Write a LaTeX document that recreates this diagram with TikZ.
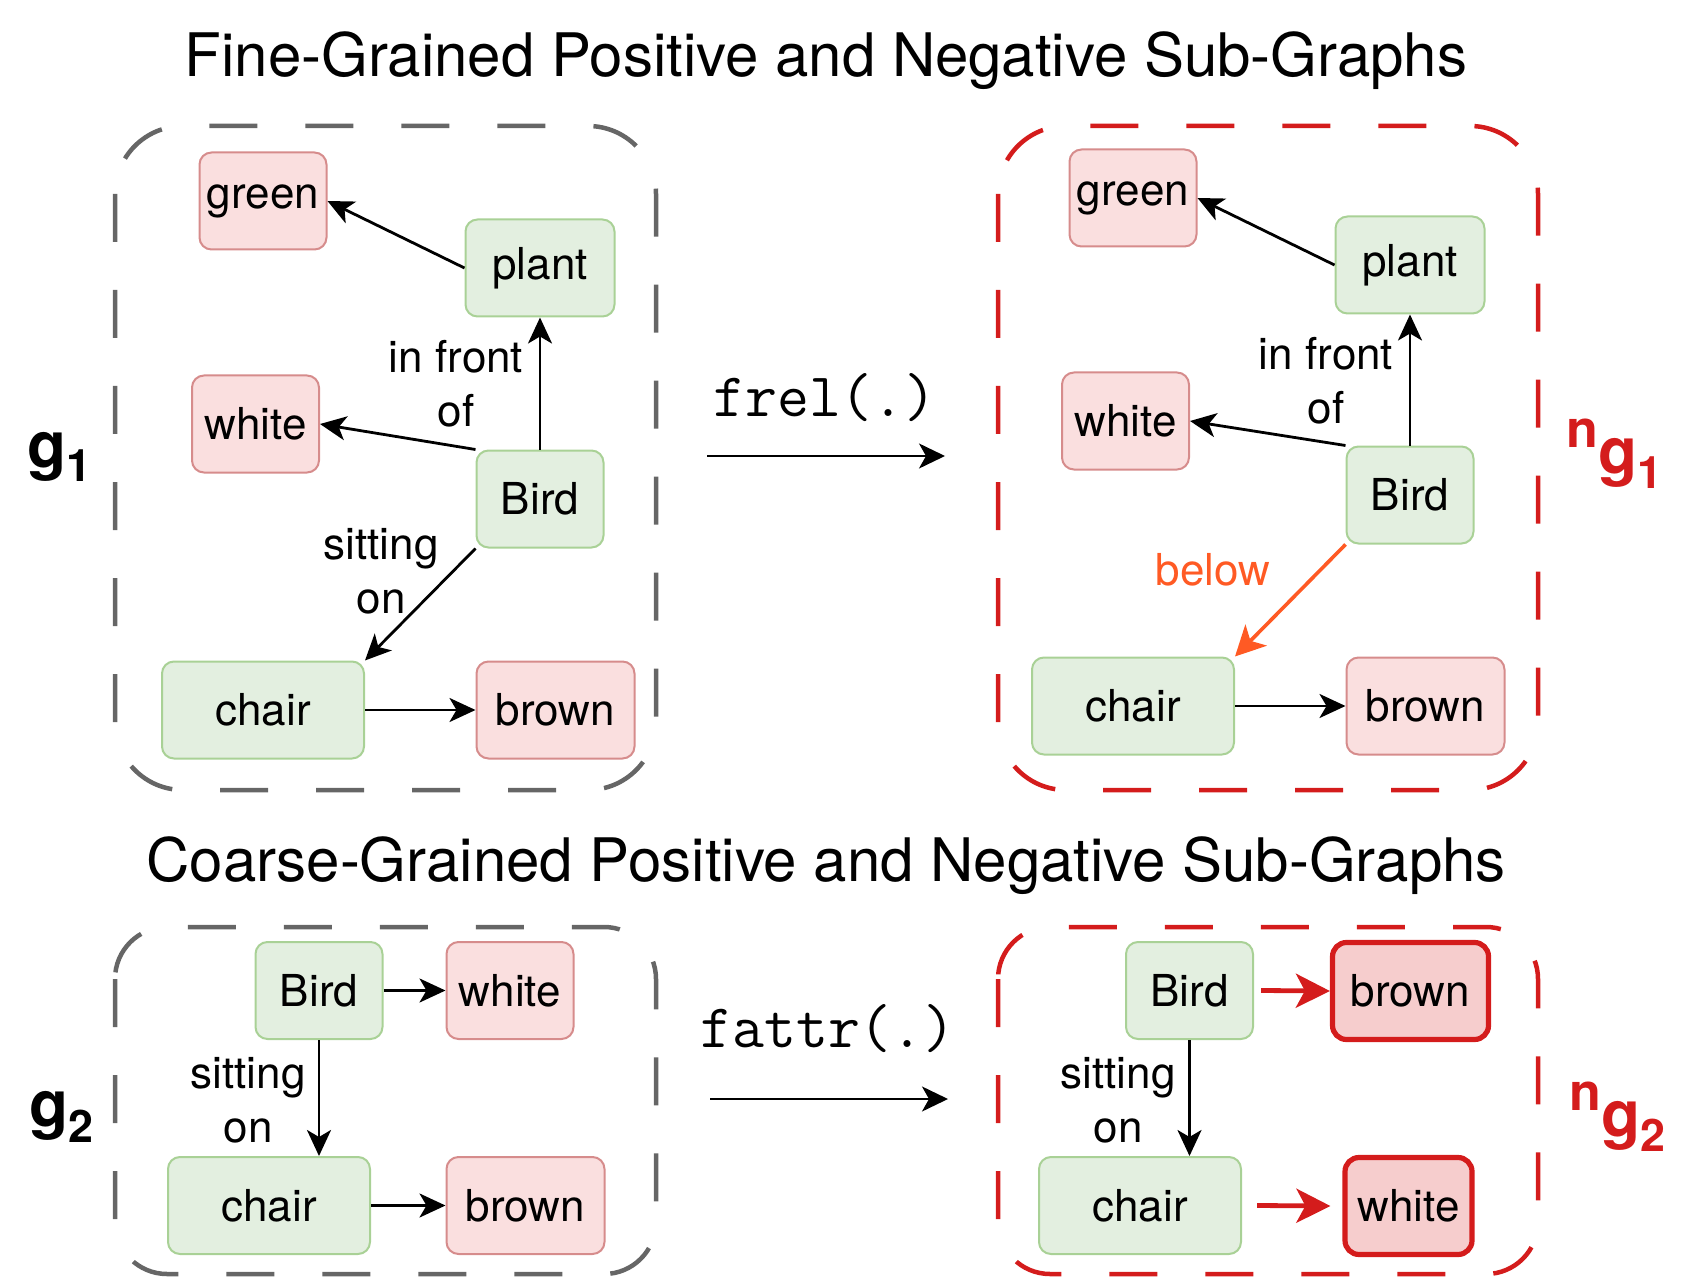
\documentclass[tikz,border=0pt]{standalone}
\usepackage{fontspec}
\setmainfont{TeX Gyre Heros}
\usetikzlibrary{arrows.meta}

\definecolor{objfill}{HTML}{E3EFE0}
\definecolor{objline}{HTML}{A9D196}
\definecolor{attrfill}{HTML}{FADFDF}
\definecolor{attrline}{HTML}{D68C8C}
\definecolor{negred}{HTML}{D41C1C}
\definecolor{negfill}{HTML}{F6CDCD}
\definecolor{framegray}{HTML}{666666}
\definecolor{belowcol}{HTML}{FF5A24}

\begin{document}
\begin{tikzpicture}[x=0.5pt,y=-0.5pt,
	every node/.style={font=\fontsize{22}{27}\selectfont,inner sep=0pt},
	obj/.style={draw=objline,fill=objfill,line width=1pt,rounded corners=6pt,minimum width=63.5pt,minimum height=48.5pt},
	attr/.style={draw=attrline,fill=attrfill,line width=1pt,rounded corners=6pt,minimum width=63.5pt,minimum height=48.5pt},
	negattr/.style={draw=negred,fill=negfill,line width=2.6pt,rounded corners=7pt,minimum width=63.5pt,minimum height=48.5pt},
	edgelbl/.style={align=center},
	rel/.style={-{Stealth[length=13pt,width=12pt,inset=3.5pt]},line width=1.4pt},
	below rel/.style={-{Stealth[length=15pt,width=15pt,inset=4pt]},line width=1.8pt,draw=belowcol},
	swap rel/.style={-{Stealth[length=17pt,width=17pt,inset=4.5pt]},line width=2.4pt,draw=negred},
	mapto/.style={-{Stealth[length=13pt,width=12.5pt,inset=3.5pt]},line width=1pt},
	fn/.style={font=\fontsize{31}{36}\selectfont\ttfamily},
	title/.style={font=\fontsize{30}{36}\selectfont},
	glbl/.style={font=\fontsize{32}{38}\selectfont\bfseries},
	posframe/.style={draw=framegray,line width=2.25pt,dash pattern=on 24pt off 24pt},
	negframe/.style={draw=negred,line width=2.25pt,dash pattern=on 24pt off 24pt}]
	\useasboundingbox (0,0) rectangle (1686,1278);

	% titles
	\node[title] (fineT) at (826,61) {Fine-Grained Positive and Negative Sub-Graphs};
	\node[title] (coarseT) at (826,866) {Coarse-Grained Positive and Negative Sub-Graphs};

	% frames
	\draw[posframe,rounded corners=34pt] (115,126) rectangle (656,790);
	\draw[negframe,rounded corners=34pt] (998,126) rectangle (1538,790);
	\draw[posframe,rounded corners=26pt] (115,927) rectangle (656,1274);
	\draw[negframe,rounded corners=26pt] (998,927) rectangle (1538,1274);

	% fine-grained, positive
	\node[attr] (greenA) at (263,201) {green};
	\node[obj,minimum width=74.5pt] (plantA) at (540,268) {plant};
	\node[attr] (whiteA) at (255.5,424) {white};
	\node[obj] (birdA) at (540,499) {Bird};
	\node[obj,minimum width=101pt] (chairA) at (263,710) {chair};
	\node[attr,minimum width=79pt] (brownA) at (555.5,710) {brown};
	\draw[rel] (plantA.west) -- (greenA.east);
	\draw[rel] (birdA.north west) -- (whiteA.east);
	\draw[rel] (birdA.north) -- (plantA.south);
	\draw[rel] (birdA.south west) -- (chairA.north east);
	\draw[rel] (chairA) -- (brownA);
	\node[edgelbl] (frontA) at (456,384) {in front\\of};
	\node[edgelbl] (sitA) at (381,571) {sitting\\on};
	\node[glbl] (gA) at (60,457) {g\textsubscript{1}};

	% fine-grained, negative
	\node[attr] (greenB) at (1133,198) {green};
	\node[obj,minimum width=74.5pt] (plantB) at (1410,265) {plant};
	\node[attr] (whiteB) at (1125.5,421) {white};
	\node[obj] (birdB) at (1410,495) {Bird};
	\node[obj,minimum width=101pt] (chairB) at (1133,706) {chair};
	\node[attr,minimum width=79pt] (brownB) at (1425.5,706) {brown};
	\draw[rel] (plantB.west) -- (greenB.east);
	\draw[rel] (birdB.north west) -- (whiteB.east);
	\draw[rel] (birdB.north) -- (plantB.south);
	\draw[below rel] (birdB.south west) -- (chairB.north east);
	\draw[rel] (chairB) -- (brownB);
	\node[edgelbl] (frontB) at (1326,381) {in front\\of};
	\node[text=belowcol] (belowB) at (1213,570) {below};
	\node[glbl,text=negred] (ngA) at (1615,454) {\raisebox{13pt}{\fontsize{26}{30}\selectfont n}g\textsubscript{1}};

	% frel
	\coordinate (relS) at (707,456);
	\coordinate (relE) at (945,456);
	\draw[mapto] (relS) -- (relE);
	\node[fn] (frel) at (825,398) {frel(.)};

	% coarse-grained, positive
	\node[obj] (birdC) at (319,990.5) {Bird};
	\node[attr] (whiteC) at (510,990.5) {white};
	\node[obj,minimum width=101pt] (chairC) at (269,1205.5) {chair};
	\node[attr,minimum width=79pt] (brownC) at (525.5,1205.5) {brown};
	\draw[rel] (birdC) -- (whiteC);
	\draw[rel] (birdC) -- (birdC |- chairC.north);
	\draw[rel] (chairC) -- (brownC);
	\node[edgelbl] (sitC) at (248,1100) {sitting\\on};
	\node[glbl] (gB) at (62,1117) {g\textsubscript{2}};

	% coarse-grained, negative
	\node[obj] (birdD) at (1189.5,990.5) {Bird};
	\node[negattr,minimum width=78pt] (brownD) at (1410.5,991) {brown};
	\node[obj,minimum width=101pt] (chairD) at (1140,1205.5) {chair};
	\node[negattr] (whiteD) at (1408.5,1206) {white};
	\draw[swap rel] ([xshift=3.5pt]birdD.east) -- (brownD.west);
	\draw[rel] (birdD) -- (birdD |- chairD.north);
	\draw[swap rel] ([xshift=7.5pt]chairD.east) -- ([xshift=-6pt]whiteD.west);
	\node[edgelbl] (sitD) at (1118,1100) {sitting\\on};
	\node[glbl,text=negred] (ngB) at (1618,1117) {\raisebox{13pt}{\fontsize{26}{30}\selectfont n}g\textsubscript{2}};

	% fattr
	\coordinate (attS) at (710,1099);
	\coordinate (attE) at (948,1099);
	\draw[mapto] (attS) -- (attE);
	\node[fn] (fattr) at (828,1029) {fattr(.)};
\end{tikzpicture}
\end{document}
